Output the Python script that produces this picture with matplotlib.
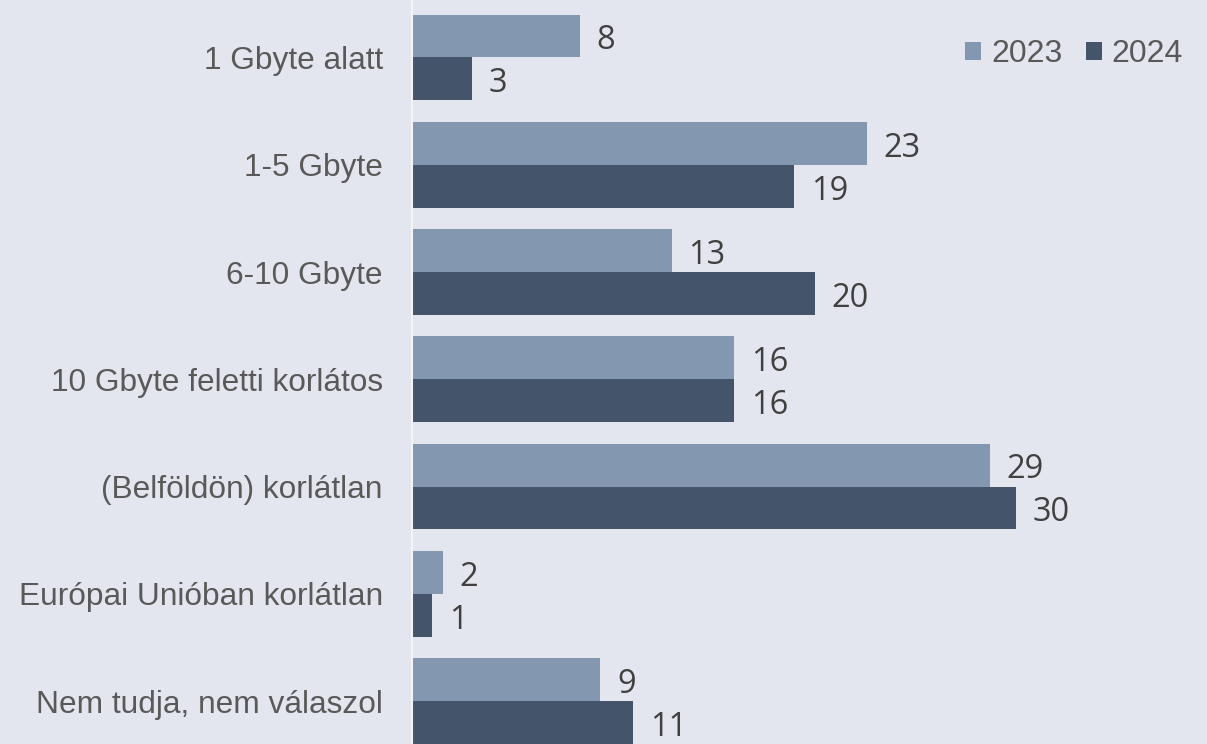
import matplotlib.pyplot as plt
import numpy as np

# data (bar lengths, labels shown rounded)
categories = ["1 Gbyte alatt", "1-5 Gbyte", "6-10 Gbyte", "10 Gbyte feletti korlátos",
              "(Belföldön) korlátlan", "Európai Unióban korlátlan", "Nem tudja, nem válaszol"]
vals_2023 = [8.35, 22.6, 12.9, 16.0, 28.7, 1.55, 9.35]
vals_2024 = [3.0, 19.0, 20.0, 16.0, 30.0, 1.0, 11.0]
series_names = ["2023", "2024"]

bg = "#e3e6ee"
c23 = "#8497b0"
c24 = "#44546a"
txt = "#595959"

fig = plt.figure(figsize=(12.07, 7.44), dpi=100)
fig.patch.set_facecolor(bg)
ax = fig.add_axes([412 / 1207, 0, 1 - 412 / 1207, 1])
ax.set_facecolor(bg)

y = np.arange(len(categories))
h = 0.4
b1 = ax.barh(y - h / 2, vals_2023, height=h, color=c23, label=series_names[0])
b2 = ax.barh(y + h / 2, vals_2024, height=h, color=c24, label=series_names[1])

# value labels
for bars, vals in ((b1, vals_2023), (b2, vals_2024)):
    for bar, v in zip(bars, vals):
        ax.annotate("%.0f" % v, (v, bar.get_y() + bar.get_height() / 2),
                    xytext=(12, -3.5), textcoords="offset points", va="center", ha="left",
                    fontsize=23.5, color="#404040", family="Open Sans")

ax.set_xlim(0, (1207 - 412) / 20.13)
ax.set_ylim(6.4, -0.536)
ax.set_yticks(y)
ax.set_yticklabels(categories, fontsize=22.8, color=txt, family="Liberation Sans")
ax.tick_params(axis="y", length=0, pad=21)
ax.set_xticks([])
for s in ["top", "right", "bottom"]:
    ax.spines[s].set_visible(False)
ax.spines["left"].set_color("#f4f4f6")
ax.spines["left"].set_linewidth(1.5)

leg = ax.legend(loc="upper right", bbox_to_anchor=(1.006, 0.986), ncol=2, frameon=False,
                handlelength=0.5, handleheight=0.5, handletextpad=0.3, columnspacing=0.75,
                prop={"family": "Liberation Sans", "size": 23})
for t in leg.get_texts():
    t.set_color(txt)

fig.savefig("out.png", dpi=100, facecolor=bg)
